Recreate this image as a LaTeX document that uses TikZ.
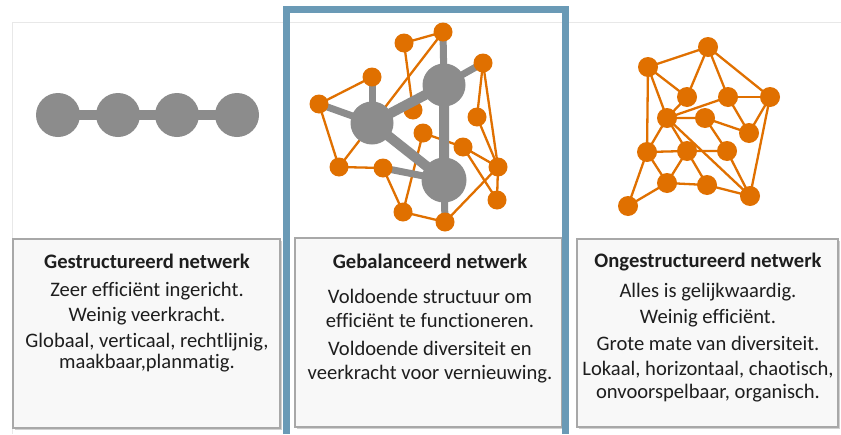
\documentclass[tikz,border=0pt]{standalone}
\usepackage{fontspec}
\setmainfont{Carlito}[Ligatures=NoCommon]
\definecolor{netorange}{HTML}{E07000}
\definecolor{netgray}{HTML}{8C8C8C}
\definecolor{framblue}{HTML}{6A9AB6}
\definecolor{boxedge}{HTML}{A8A8A8}
\definecolor{boxfill}{HTML}{F8F8F8}
\definecolor{panelline}{HTML}{E8E8E8}
\definecolor{txtcol}{HTML}{1E1E1E}
\begin{document}
\begin{tikzpicture}[x=1pt,y=-1pt,
  onode/.style={circle, fill=netorange, minimum size=19pt, inner sep=0pt},
  gbig/.style={circle, fill=netgray, minimum size=43pt, inner sep=0pt},
  gchain/.style={circle, fill=netgray, minimum size=44pt, inner sep=0pt},
  olink/.style={draw=netorange, line width=2.3pt},
  glink/.style={draw=netgray, line width=10pt},
  gthin/.style={draw=netgray, line width=7pt},
  textbox/.style={draw=boxedge, line width=1.8pt, fill=boxfill},
  txt/.style={anchor=base, text=txtcol, font=\fontsize{20.6}{24}\selectfont},
  ttl/.style={txt, font=\fontsize{20.6}{24}\selectfont\bfseries}]
\useasboundingbox (0,0) rectangle (841,434);
\fill[white] (0,0) rectangle (841,434);

% faint panel outline
\draw[panelline, line width=1pt] (12,434) -- (12,22) -- (841,22);

% text boxes (with a soft shadow)
\fill[black!18] (15,241) rectangle (282,430);
\fill[black!18] (297,240) rectangle (564,429);
\fill[black!18] (579,241) rectangle (840,429);
\draw[textbox] (13,239) rectangle (280,428) node[coordinate] (boxA) {};
\draw[textbox] (295,238) rectangle (562,427) node[coordinate] (boxB) {};
\draw[textbox] (577,239) rectangle (838,427) node[coordinate] (boxC) {};

% texts of the structured network
\node[ttl] (a0) at (147,268) {Gestructureerd netwerk};
\node[txt] (a1) at (147,296) {Zeer efficiënt ingericht.};
\node[txt] (a2) at (147,321) {Weinig veerkracht.};
\node[txt] (a3) at (147,347) {Globaal, verticaal, rechtlijnig,};
\node[txt] (a4) at (147,368) {maakbaar,planmatig.};

% texts of the balanced network
\node[ttl] (b0) at (430,268) {Gebalanceerd netwerk};
\node[txt] (b1) at (430,303) {Voldoende structuur om};
\node[txt] (b2) at (430,327) {efficiënt te functioneren.};
\node[txt] (b3) at (430,355) {Voldoende diversiteit en};
\node[txt] (b4) at (430,379) {veerkracht voor vernieuwing.};

% texts of the unstructured network
\node[ttl] (c0) at (708,267) {Ongestructureerd netwerk};
\node[txt] (c1) at (708,297) {Alles is gelijkwaardig.};
\node[txt] (c2) at (708,323) {Weinig efficiënt.};
\node[txt] (c3) at (708,350) {Grote mate van diversiteit.};
\node[txt] (c4) at (708,375) {Lokaal, horizontaal, chaotisch,};
\node[txt] (c5) at (708,398) {onvoorspelbaar, organisch.};

% highlight frame around the middle panel
\draw[framblue, line width=7pt] (286.5,434) -- (286.5,9.5) -- (565.5,9.5) -- (565.5,434);

% structured: a chain of four nodes
\coordinate (k1) at (58,115);
\coordinate (k2) at (118,115);
\coordinate (k3) at (177,115);
\coordinate (k4) at (237,115);
\draw[glink] (k1) -- (k2) -- (k3) -- (k4);
\foreach \k in {k1,k2,k3,k4} \node[gchain] at (\k) {};

% balanced: three hubs with orange satellites
\coordinate (G1) at (372,123);
\coordinate (G2) at (444,85);
\coordinate (G3) at (444,180);
\coordinate (O1) at (443,32);
\coordinate (O2) at (404,43);
\coordinate (O3) at (483,63);
\coordinate (O4) at (372,77);
\coordinate (O5) at (319,104);
\coordinate (O6) at (413,110);
\coordinate (O7) at (477,117);
\coordinate (O8) at (423,133);
\coordinate (O9) at (463,147);
\coordinate (O10) at (339,167);
\coordinate (O11) at (383,168);
\coordinate (O12) at (498,167);
\coordinate (O13) at (497,200);
\coordinate (O14) at (403,212);
\coordinate (O15) at (445,222);
\draw[olink] (O2) -- (O1);
\draw[olink] (O2) -- (O6);
\draw[olink] (O1) -- (O10);
\draw[olink] (O4) -- (O5) -- (O10) -- (O11) -- (O14) -- (O15) -- (O12);
\draw[olink] (O3) -- (O7) -- (O12);
\draw[olink] (O3) -- (O12) -- (O13);
\draw[olink] (O8) -- (O9) -- (O12);
\draw[olink] (O8) -- (O14);
\draw[olink] (O9) -- (O13);
\node[onode] (o6) at (O6) {};
\draw[gthin] (G2) -- (O1);
\draw[gthin] (G2) -- (O3);
\draw[gthin] (G1) -- (O4);
\draw[gthin] (G1) -- (O5);
\draw[gthin] (G3) -- (O11);
\draw[gthin] (G3) -- (O15);
\draw[glink] (G1) -- (G2) -- (G3) -- (G1);
\foreach \g in {G1,G2} \node[gbig] at (\g) {};
\node[gbig, minimum size=45pt] at (G3) {};
\foreach \o in {O1,O2,O3,O4,O5,O7,O8,O9,O10,O11,O12,O13,O14,O15}
  \node[onode] at (\o) {};

% unstructured: a mesh of equal orange nodes
\coordinate (R1) at (708,47);
\coordinate (R2) at (648,67);
\coordinate (R3) at (687,97);
\coordinate (R4) at (728,97);
\coordinate (R5) at (770,97);
\coordinate (R6) at (667,118);
\coordinate (R7) at (705,118);
\coordinate (R8) at (749,133);
\coordinate (R9) at (647,152);
\coordinate (R10) at (687,151);
\coordinate (R11) at (727,151);
\coordinate (R12) at (667,183);
\coordinate (R13) at (707,185);
\coordinate (R14) at (750,196);
\coordinate (R15) at (628,206);
\draw[olink] (R2) -- (R1) -- (R5) -- (R14);
\draw[olink] (R1) -- (R3);
\draw[olink] (R1) -- (R4);
\draw[olink] (R2) -- (R3) -- (R6);
\draw[olink] (R2) -- (R6);
\draw[olink] (R2) -- (R9) -- (R15) -- (R12);
\draw[olink] (R4) -- (R5);
\draw[olink] (R4) -- (R8) -- (R7) -- (R6) -- (R4);
\draw[olink] (R5) -- (R8);
\draw[olink] (R6) -- (R9) -- (R10) -- (R11) -- (R7);
\draw[olink] (R6) -- (R10) -- (R13);
\draw[olink] (R6) -- (R14);
\draw[olink] (R9) -- (R12) -- (R13) -- (R14) -- (R11);
\draw[olink] (R10) -- (R12);
\foreach \r in {R1,R2,R3,R4,R5,R6,R7,R8,R9,R10,R11,R12,R13,R14,R15}
  \node[onode, minimum size=20pt] at (\r) {};
\end{tikzpicture}
\end{document}
